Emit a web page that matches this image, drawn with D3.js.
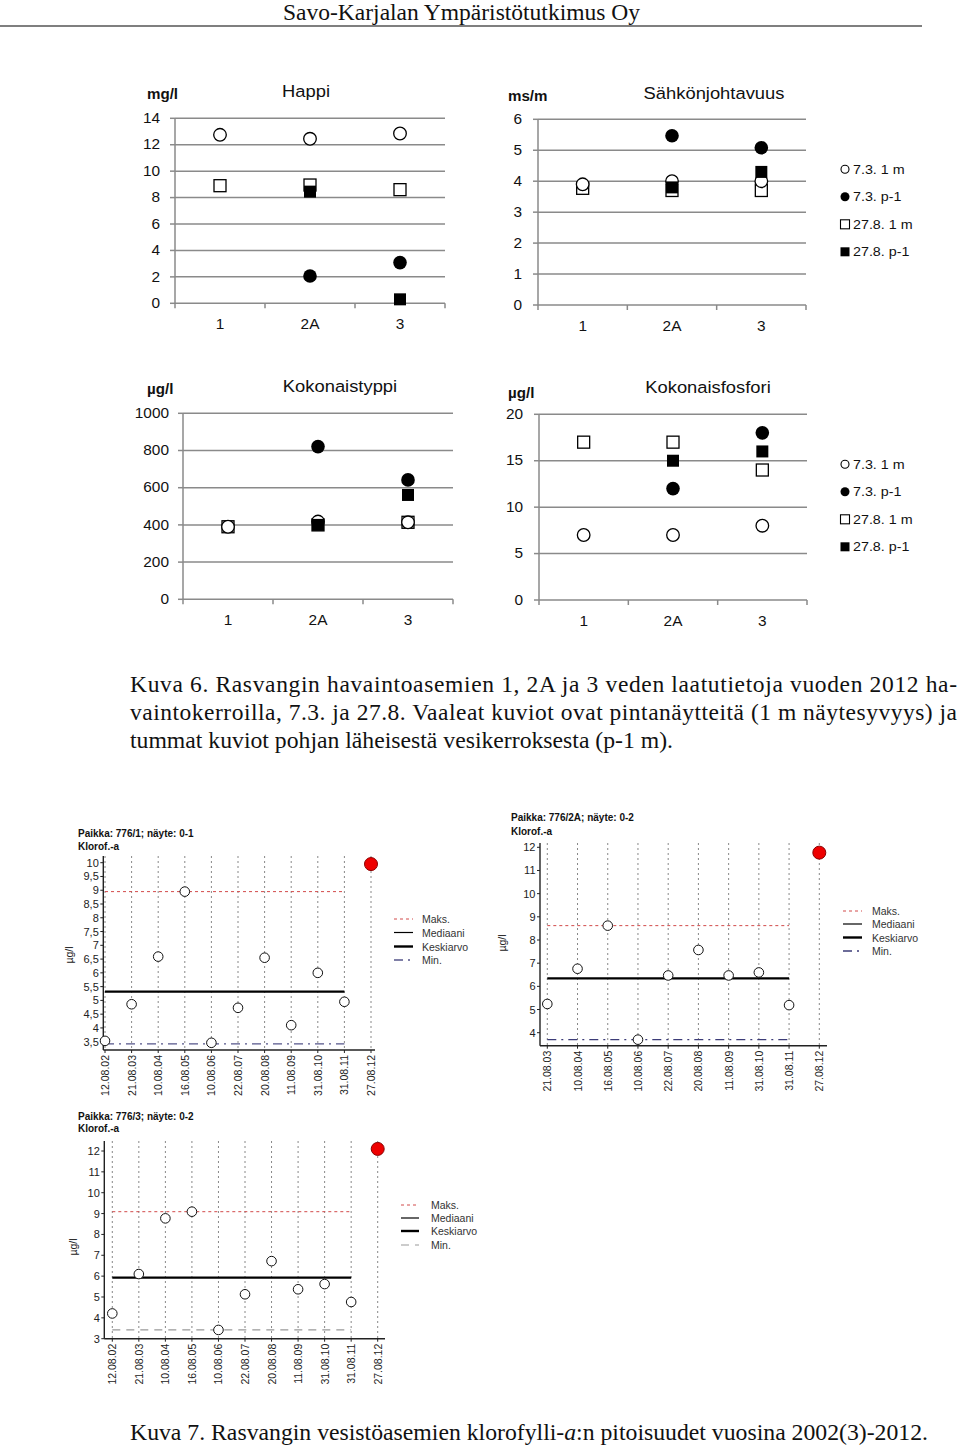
<!DOCTYPE html>
<html><head><meta charset="utf-8">
<script src="https://cdn.jsdelivr.net/npm/d3@7"></script>
<style>body{margin:0;background:#fff}svg{display:block}</style>
</head><body>
<script>
// ---------- DATA ----------
const stations = ["1", "2A", "3"];
const seriesNames = ["7.3. 1 m", "7.3. p-1", "27.8. 1 m", "27.8. p-1"];

const happi_73_1m = [12.75, 12.45, 12.85];
const happi_73_p1 = [null, 2.07, 3.08];
const happi_278_1m = [8.9, 8.95, 8.6];
const happi_278_p1 = [null, 8.45, 0.3];
const happiTicks = [0, 2, 4, 6, 8, 10, 12, 14];

const sahko_73_1m = [3.9, 4.0, 4.0];
const sahko_73_p1 = [null, 5.47, 5.08];
const sahko_278_1m = [3.77, 3.7, 3.7];
const sahko_278_p1 = [null, 3.8, 4.3];
const sahkoTicks = [0, 1, 2, 3, 4, 5, 6];

const typpi_73_1m = [390, 418, 414];
const typpi_73_p1 = [null, 821, 642];
const typpi_278_1m = [390, 400, 414];
const typpi_278_p1 = [null, 400, 561];
const typpiTicks = [0, 200, 400, 600, 800, 1000];

const fosfori_73_1m = [7, 7, 8];
const fosfori_73_p1 = [null, 12, 18];
const fosfori_278_1m = [17, 17, 14];
const fosfori_278_p1 = [null, 15, 16];
const fosforiTicks = [0, 5, 10, 15, 20];

const datesA = ["12.08.02","21.08.03","10.08.04","16.08.05","10.08.06","22.08.07","20.08.08","11.08.09","31.08.10","31.08.11","27.08.12"];
const klorofA = [3.53, 4.86, 6.59, 8.95, 3.46, 4.73, 6.55, 4.1, 6.0, 4.95];
const klorofA_2012 = 9.95;
const klorofA_maks = 8.95, klorofA_keskiarvo = 5.32, klorofA_min = 3.42;
const ticksA = [3.5,4,4.5,5,5.5,6,6.5,7,7.5,8,8.5,9,9.5,10];

const datesB = ["21.08.03","10.08.04","16.08.05","10.08.06","22.08.07","20.08.08","11.08.09","31.08.10","31.08.11","27.08.12"];
const klorofB = [5.24, 6.76, 8.62, 3.7, 6.47, 7.57, 6.47, 6.6, 5.19];
const klorofB_2012 = 11.77;
const klorofB_maks = 8.62, klorofB_keskiarvo = 6.34, klorofB_min = 3.7;
const ticksB = [4,5,6,7,8,9,10,11,12];

const datesC = ["12.08.02","21.08.03","10.08.04","16.08.05","10.08.06","22.08.07","20.08.08","11.08.09","31.08.10","31.08.11","27.08.12"];
const klorofC = [4.21, 6.1, 8.77, 9.09, 3.42, 5.13, 6.72, 5.37, 5.62, 4.76];
const klorofC_2012 = 12.1;
const klorofC_maks = 9.09, klorofC_keskiarvo = 5.93, klorofC_min = 3.42;
const ticksC = [3,4,5,6,7,8,9,10,11,12];

const statLabels = ["Maks.", "Mediaani", "Keskiarvo", "Min."];

// ---------- DRAW ----------
const W = 960, H = 1449;
const svg = d3.select("body").append("svg").attr("width", W).attr("height", H);
const SANS = "'Liberation Sans', Arial, sans-serif";
const SERIF = "'Liberation Serif', 'Times New Roman', serif";

function T(g, x, y, s, o = {}) {
  const t = g.append("text")
    .attr("transform", `translate(${x},${y})` + (o.rot ? ` rotate(${o.rot})` : "") + (o.sx ? ` scale(${o.sx},1)` : ""))
    .attr("font-family", o.ff || SANS)
    .attr("font-size", o.fs || 12)
    .attr("fill", o.fill || "#000")
    .attr("text-anchor", o.anchor || "start")
    .text(s);
  if (o.bold) t.attr("font-weight", "bold");
  if (o.db) t.attr("dominant-baseline", o.db);
  if (o.tl) t.attr("textLength", o.tl).attr("lengthAdjust", o.la || "spacing");
  return t;
}

// header
T(svg, 283, 19.5, "Savo-Karjalan Ympäristötutkimus Oy", {ff: SERIF, fs: 23.5, tl: 357, la: "spacingAndGlyphs", fill: "#111"});
svg.append("line").attr("x1", 0).attr("x2", 922).attr("y1", 26).attr("y2", 26).attr("stroke", "#555").attr("stroke-width", 1.5);

const GRID = "#8a8a8a";

function topPanel(c) {
  const g = svg.append("g");
  const x = d3.scaleBand().domain(stations).range([c.x0, c.x1]);
  const y = d3.scaleLinear().domain([c.ticks[0], c.ticks[c.ticks.length - 1]]).range([c.yb, c.yt]);
  g.selectAll(".grid").data(c.ticks.slice(1)).join("line")
    .attr("x1", c.x0).attr("x2", c.x1).attr("y1", d => y(d)).attr("y2", d => y(d))
    .attr("stroke", GRID).attr("stroke-width", 1.5);
  g.append("line").attr("x1", c.x0).attr("x2", c.x0).attr("y1", y(c.ticks[c.ticks.length - 1])).attr("y2", y(0))
    .attr("stroke", GRID).attr("stroke-width", 1.5);
  g.append("line").attr("x1", c.x0).attr("x2", c.x1).attr("y1", y(0)).attr("y2", y(0))
    .attr("stroke", GRID).attr("stroke-width", 1.5);
  g.selectAll(".yt").data(c.ticks).join("line")
    .attr("x1", c.x0 - 5).attr("x2", c.x0).attr("y1", d => y(d)).attr("y2", d => y(d))
    .attr("stroke", GRID).attr("stroke-width", 1.5);
  const bounds = stations.map(s => x(s)).concat([c.x1]);
  g.selectAll(".xt").data(bounds).join("line")
    .attr("x1", d => d).attr("x2", d => d).attr("y1", y(0)).attr("y2", y(0) + 5)
    .attr("stroke", GRID).attr("stroke-width", 1.5);
  c.ticks.forEach(t => T(g, c.labelRight, y(t), String(t), {fs: 14, anchor: "end", db: "central", sx: 1.1, fill: "#111"}));
  stations.forEach(s => T(g, x(s) + x.bandwidth() / 2, c.catY, s, {fs: 14, anchor: "middle", sx: 1.1, fill: "#111"}));
  T(g, c.unitX, c.unitY, c.unit, {fs: 14, bold: true, sx: 1.08, fill: "#111"});
  T(g, c.titleX, c.titleY, c.title, {fs: 17, anchor: "middle", sx: 1.08, fill: "#111"});
  const cx = i => x(stations[i]) + x.bandwidth() / 2;
  const R = 6.3, S = 12;
  // draw order: open square, open circle, filled circle, filled square
  c.data[2].forEach((v, i) => { if (v != null) g.append("rect").attr("x", cx(i) - S / 2).attr("y", y(v) - S / 2).attr("width", S).attr("height", S).attr("fill", "#fff").attr("stroke", "#000").attr("stroke-width", 1.3); });
  c.data[0].forEach((v, i) => { if (v != null) g.append("circle").attr("cx", cx(i)).attr("cy", y(v)).attr("r", R).attr("fill", "#fff").attr("stroke", "#000").attr("stroke-width", 1.3); });
  c.data[1].forEach((v, i) => { if (v != null) g.append("circle").attr("cx", cx(i)).attr("cy", y(v)).attr("r", R + 0.5).attr("fill", "#000"); });
  c.data[3].forEach((v, i) => { if (v != null) g.append("rect").attr("x", cx(i) - S / 2).attr("y", y(v) - S / 2).attr("width", S).attr("height", S).attr("fill", "#000"); });
}

function legendTop(lx, ys) {
  const g = svg.append("g");
  seriesNames.forEach((n, i) => {
    const yy = ys[i];
    if (i === 0) g.append("circle").attr("cx", lx).attr("cy", yy).attr("r", 4).attr("fill", "#fff").attr("stroke", "#000").attr("stroke-width", 1.1);
    if (i === 1) g.append("circle").attr("cx", lx).attr("cy", yy).attr("r", 4.5).attr("fill", "#000");
    if (i === 2) g.append("rect").attr("x", lx - 4.5).attr("y", yy - 4.5).attr("width", 9).attr("height", 9).attr("fill", "#fff").attr("stroke", "#000").attr("stroke-width", 1.1);
    if (i === 3) g.append("rect").attr("x", lx - 4.5).attr("y", yy - 4.5).attr("width", 9).attr("height", 9).attr("fill", "#000");
    T(g, lx + 8, yy, n, {fs: 13, db: "central", sx: 1.1, fill: "#111"});
  });
}

topPanel({title: "Happi", unit: "mg/l", ticks: happiTicks, data: [happi_73_1m, happi_73_p1, happi_278_1m, happi_278_p1],
  x0: 175, x1: 445, yt: 118.3, yb: 303.3, labelRight: 160, catY: 329, unitX: 147, unitY: 99, titleX: 306, titleY: 97});
topPanel({title: "Sähkönjohtavuus", unit: "ms/m", ticks: sahkoTicks, data: [sahko_73_1m, sahko_73_p1, sahko_278_1m, sahko_278_p1],
  x0: 538, x1: 806, yt: 119.3, yb: 305, labelRight: 522, catY: 330.5, unitX: 508, unitY: 101, titleX: 714, titleY: 98.5});
topPanel({title: "Kokonaistyppi", unit: "µg/l", ticks: typpiTicks, data: [typpi_73_1m, typpi_73_p1, typpi_278_1m, typpi_278_p1],
  x0: 183, x1: 453, yt: 413.3, yb: 599.3, labelRight: 169, catY: 625, unitX: 147, unitY: 394, titleX: 340, titleY: 391.5});
topPanel({title: "Kokonaisfosfori", unit: "µg/l", ticks: fosforiTicks, data: [fosfori_73_1m, fosfori_73_p1, fosfori_278_1m, fosfori_278_p1],
  x0: 539, x1: 807, yt: 414.3, yb: 600, labelRight: 523, catY: 625.5, unitX: 508, unitY: 398, titleX: 708, titleY: 393});
legendTop(845, [169.3, 196.8, 224.3, 251.8]);
legendTop(845, [464.3, 491.8, 519.3, 546.8]);

// caption Kuva 6
T(svg, 130, 691.5, "Kuva 6. Rasvangin havaintoasemien 1, 2A ja 3 veden laatutietoja vuoden 2012 ha-", {ff: SERIF, fs: 23.5, tl: 827, fill: "#111"});
T(svg, 130, 719.5, "vaintokerroilla, 7.3. ja 27.8. Vaaleat kuviot ovat pintanäytteitä (1 m näytesyvyys) ja", {ff: SERIF, fs: 23.5, tl: 827, fill: "#111"});
T(svg, 130, 747.5, "tummat kuviot pohjan läheisestä vesikerroksesta (p-1 m).", {ff: SERIF, fs: 23.5, tl: 543, la: "spacingAndGlyphs", fill: "#111"});

// ---------- chlorophyll panels ----------
function kloPanel(c) {
  const g = svg.append("g");
  const x = d3.scalePoint().domain(c.dates).range([c.xFirst, c.xLast]);
  const y = d3.scaleLinear().domain(c.dom).range(c.rng);
  const lastHist = c.dates[c.values.length - 1];
  g.selectAll(".vg").data(c.dates).join("line")
    .attr("x1", d => x(d)).attr("x2", d => x(d)).attr("y1", c.top).attr("y2", c.axisY)
    .attr("stroke", "#888").attr("stroke-width", 1).attr("stroke-dasharray", "2,3");
  g.append("line").attr("x1", c.xFirst).attr("x2", x(lastHist)).attr("y1", y(c.maks)).attr("y2", y(c.maks))
    .attr("stroke", "#d24a4a").attr("stroke-width", 1).attr("stroke-dasharray", "3,3");
  g.append("line").attr("x1", c.xFirst).attr("x2", x(lastHist)).attr("y1", y(c.mean)).attr("y2", y(c.mean))
    .attr("stroke", "#000").attr("stroke-width", 2.2);
  g.append("line").attr("x1", c.xFirst).attr("x2", x(lastHist)).attr("y1", y(c.min)).attr("y2", y(c.min))
    .attr("stroke", c.minColor).attr("stroke-width", c.minW).attr("stroke-dasharray", c.minDash);
  g.append("line").attr("x1", c.axX).attr("x2", c.axX).attr("y1", c.top).attr("y2", c.axisY).attr("stroke", "#222").attr("stroke-width", 1.4);
  g.append("line").attr("x1", c.axX).attr("x2", c.xEnd).attr("y1", c.axisY).attr("y2", c.axisY).attr("stroke", "#222").attr("stroke-width", 1.4);
  g.selectAll(".yt").data(c.ticks).join("line")
    .attr("x1", c.axX - 3).attr("x2", c.axX).attr("y1", d => y(d)).attr("y2", d => y(d)).attr("stroke", "#222");
  g.selectAll(".xt").data(c.dates).join("line")
    .attr("x1", d => x(d)).attr("x2", d => x(d)).attr("y1", c.axisY).attr("y2", c.axisY + 3).attr("stroke", "#222");
  c.ticks.forEach(t => T(g, c.axX - 4.5, y(t), String(t).replace(".", ","), {fs: 11, anchor: "end", db: "central", fill: "#222"}));
  c.dates.forEach(d => T(g, x(d), c.axisY + 5, d, {fs: 10.5, anchor: "end", db: "central", rot: -90, fill: "#222"}));
  T(g, c.ylabX, c.ylabY, "µg/l", {fs: 10.5, anchor: "middle", db: "central", rot: -90, fill: "#222"});
  T(g, c.tx, c.ty1, c.title, {fs: 10, bold: true, fill: "#111"});
  T(g, c.tx, c.ty2, "Klorof.-a", {fs: 10, bold: true, fill: "#111"});
  g.selectAll(".pt").data(c.values).join("circle")
    .attr("cx", (d, i) => x(c.dates[i])).attr("cy", d => y(d)).attr("r", 4.8)
    .attr("fill", "#fff").attr("stroke", "#111").attr("stroke-width", 1);
  g.append("circle").attr("cx", x(c.dates[c.dates.length - 1])).attr("cy", y(c.v2012)).attr("r", 6.5)
    .attr("fill", "#ee0000").attr("stroke", "#8a0000").attr("stroke-width", 1);
  const styles = [
    {s: "#d24a4a", w: 1, d: "3,3"},
    {s: "#000", w: 1.2, d: null},
    {s: "#000", w: 2.4, d: null},
    {s: c.minColor, w: c.minW, d: c.minDash}
  ];
  statLabels.forEach((lab, i) => {
    const yy = c.leg.ys[i];
    const l = g.append("line").attr("x1", c.leg.x1).attr("x2", c.leg.x2).attr("y1", yy).attr("y2", yy)
      .attr("stroke", styles[i].s).attr("stroke-width", styles[i].w);
    if (styles[i].d) l.attr("stroke-dasharray", styles[i].d);
    T(g, c.leg.tx, yy, lab, {fs: 10.5, db: "central", fill: "#333"});
  });
}

kloPanel({title: "Paikka: 776/1; näyte: 0-1", tx: 78, ty1: 837, ty2: 849.5, dates: datesA, values: klorofA, v2012: klorofA_2012,
  maks: klorofA_maks, mean: klorofA_keskiarvo, min: klorofA_min, ticks: ticksA,
  dom: [3.5, 10], rng: [1041.7, 862.7], axX: 103.3, top: 856, axisY: 1050, xFirst: 105, xLast: 371, xEnd: 375,
  ylabX: 69, ylabY: 955, minColor: "#55558a", minW: 1.4, minDash: "9,5,2,5",
  leg: {x1: 394, x2: 413, tx: 422, ys: [919, 932.5, 946.5, 960]}});

kloPanel({title: "Paikka: 776/2A; näyte: 0-2", tx: 511, ty1: 821, ty2: 834.5, dates: datesB, values: klorofB, v2012: klorofB_2012,
  maks: klorofB_maks, mean: klorofB_keskiarvo, min: klorofB_min, ticks: ticksB,
  dom: [4, 12], rng: [1032.7, 847.3], axX: 540, top: 843, axisY: 1045.7, xFirst: 547.3, xLast: 819.3, xEnd: 827,
  ylabX: 502, ylabY: 943, minColor: "#3c3c78", minW: 1.4, minDash: "9,5,2,5",
  leg: {x1: 843, x2: 862, tx: 872, ys: [911, 924, 937.5, 951]}});

kloPanel({title: "Paikka: 776/3; näyte: 0-2", tx: 78, ty1: 1119.5, ty2: 1132, dates: datesC, values: klorofC, v2012: klorofC_2012,
  maks: klorofC_maks, mean: klorofC_keskiarvo, min: klorofC_min, ticks: ticksC,
  dom: [3, 12], rng: [1338.7, 1151], axX: 104.3, top: 1141, axisY: 1338.7, xFirst: 112.3, xLast: 377.7, xEnd: 385,
  ylabX: 73, ylabY: 1247, minColor: "#999", minW: 1.2, minDash: "8,6",
  leg: {x1: 401, x2: 419, tx: 431, ys: [1205, 1218, 1231, 1245]}});

// caption Kuva 7
const cap7 = T(svg, 130, 1440, "", {ff: SERIF, fs: 23.5, tl: 798, la: "spacingAndGlyphs", fill: "#111"});
cap7.append("tspan").text("Kuva 7. Rasvangin vesistöasemien klorofylli-");
cap7.append("tspan").attr("font-style", "italic").text("a");
cap7.append("tspan").text(":n pitoisuudet vuosina 2002(3)-2012.");
</script>
</body></html>
